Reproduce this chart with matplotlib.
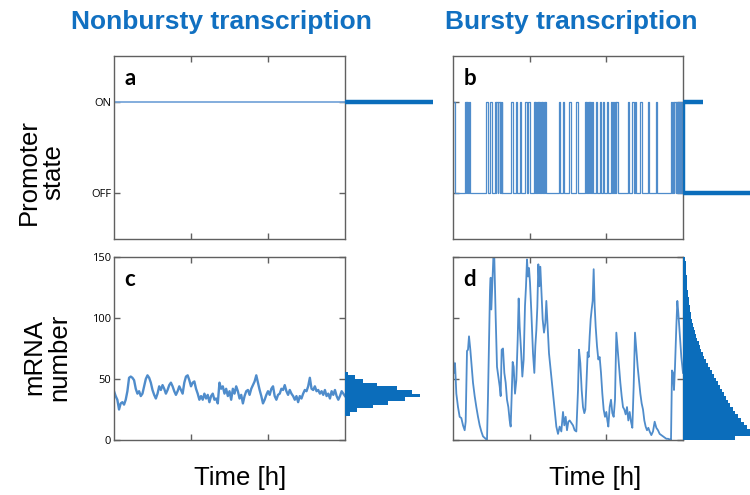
import numpy as np
import matplotlib.pyplot as plt

# time axis in minutes, 0..690
t_end = 690
t_ticks = [230, 460]

# promoter switching (bursty case): ON intervals
b_on_start = [0, 35, 39, 43, 47, 100, 110, 125, 130, 136, 141, 146, 175, 188, 200,
              215, 225, 242, 247, 251, 255, 259, 263, 267, 272, 277, 318, 330, 348,
              368, 395, 400, 404, 408, 412, 416, 428, 440, 450, 463, 475, 480, 485,
              490, 525, 538, 546, 562, 585, 608, 655, 660, 664, 670, 675, 680, 686]
b_on_end = [5, 38, 42, 46, 50, 105, 118, 128, 134, 140, 145, 148, 179, 193, 203,
            222, 230, 246, 250, 254, 258, 262, 266, 270, 275, 280, 321, 333, 354,
            374, 398, 403, 407, 411, 415, 420, 432, 443, 454, 466, 478, 483, 488,
            495, 529, 542, 550, 566, 588, 611, 658, 663, 668, 673, 678, 684, 690]

# fraction of time in [OFF, ON]
a_state_frac = [0.0, 1.0]
b_state_frac = [0.77, 0.23]

# mRNA, nonbursty (sampled every 5 min)
c_mrna = [40, 36, 33, 25, 30, 31, 29, 33, 40, 51, 52, 51, 49, 42, 38, 40, 36, 38, 44, 50,
          53, 51, 47, 41, 37, 34, 38, 44, 41, 45, 42, 38, 41, 45, 47, 44, 40, 37, 40, 44,
          41, 38, 47, 52, 53, 49, 44, 47, 48, 42, 38, 33, 36, 33, 38, 34, 37, 31, 36, 38,
          33, 34, 30, 47, 42, 44, 38, 42, 36, 40, 33, 42, 38, 44, 40, 34, 37, 30, 36, 40,
          41, 37, 42, 45, 48, 53, 47, 41, 36, 30, 33, 37, 40, 37, 42, 44, 36, 33, 37, 38,
          42, 41, 45, 40, 37, 41, 38, 36, 33, 36, 31, 36, 34, 38, 41, 40, 44, 51, 42, 41,
          44, 40, 41, 38, 40, 37, 41, 36, 38, 34, 40, 37, 41, 36, 33, 36, 40, 38, 36]

# mRNA, bursty
d_time = [0, 3, 6, 10, 15, 20, 25, 30, 35, 38, 42, 45, 48, 52, 56, 60, 65, 70, 75, 80,
          85, 90, 98, 102, 105, 108, 111, 113, 115, 118, 121, 124, 128, 132, 136, 140,
          143, 146, 150, 154, 158, 162, 166, 170, 173, 176, 179, 182, 186, 190, 194, 197,
          200, 204, 208, 212, 216, 219, 222, 225, 228, 231, 235, 240, 244, 247, 250, 253,
          256, 259, 262, 265, 269, 273, 277, 280, 284, 288, 292, 296, 300, 305, 310, 315,
          320, 325, 330, 334, 338, 342, 346, 350, 355, 360, 365, 370, 375, 378, 382, 386,
          390, 394, 397, 400, 404, 407, 410, 413, 416, 419, 422, 425, 428, 432, 436, 440,
          444, 448, 452, 456, 460, 463, 466, 470, 474, 478, 482, 486, 490, 494, 498, 502,
          506, 510, 514, 518, 522, 526, 530, 534, 538, 542, 546, 550, 554, 558, 562, 566,
          570, 574, 578, 582, 586, 590, 595, 600, 605, 610, 615, 620, 625, 630, 635, 640,
          645, 650, 654, 657, 660, 663, 666, 670, 673, 676, 680, 685, 690]
d_mrna = [67, 55, 63, 38, 27, 19, 18, 12, 8, 15, 73, 74, 85, 74, 60, 47, 36, 27, 19, 12,
          7, 3, 1, 0, 36, 82, 123, 133, 107, 129, 149, 149, 101, 60, 52, 44,
          36, 74, 75, 55, 47, 33, 27, 16, 11, 36, 64, 60, 38, 49, 82, 116,
          93, 74, 52, 66, 110, 126, 148, 134, 141, 129, 105, 71, 55, 77, 90, 109,
          144, 126, 142, 123, 99, 88, 96, 114, 93, 71, 60, 49, 38, 25, 11, 5,
          11, 7, 23, 12, 19, 8, 15, 16, 14, 12, 8, 7, 41, 74, 63, 41,
          27, 22, 25, 44, 72, 68, 85, 99, 107, 114, 140, 110, 93, 77, 66, 68,
          55, 38, 25, 19, 23, 16, 11, 27, 33, 22, 19, 33, 88, 74, 60, 47,
          36, 27, 25, 21, 27, 16, 23, 15, 10, 44, 88, 74, 60, 49, 38, 30,
          25, 16, 11, 8, 10, 7, 4, 7, 15, 10, 8, 5, 4, 3, 2, 1,
          1, 0.5, 0, 57, 55, 41, 60, 93, 114, 104, 88, 68, 55]

# steady-state mRNA distributions
c_edges = np.arange(20, 57, 3)
c_counts = [5, 12, 28, 43, 60, 75, 67, 52, 32, 18, 10, 3]
d_edges = np.arange(0, 151, 3)
d_counts = [52, 70, 67, 64, 61, 58, 55, 52, 50, 47, 45, 43, 41, 39, 37, 35, 33, 31, 29,
            27, 25, 23, 21, 20, 18, 17, 16, 14, 13, 12, 11, 10, 9, 8, 7.5, 7, 6.5, 6,
            5.5, 5, 4.5, 4, 4, 3.5, 3.5, 3, 3, 2.5, 2.5, 2]

trace_col = '#4f8ccb'
hist_col = '#0b6dbb'
title_col = '#1170c1'
frame_col = '#606060'

W, H = 750, 495
fig = plt.figure(figsize=(W / 100, H / 100), dpi=100)


def add_ax(left, top, right, bottom):
    return fig.add_axes([left / W, 1 - bottom / H, (right - left) / W, (bottom - top) / H])


def style(ax, letter):
    for s in ax.spines.values():
        s.set_color(frame_col)
        s.set_linewidth(1.0)
    ax.set_xlim(0, t_end)
    ax.set_xticks(t_ticks)
    ax.set_xticklabels([])
    ax.tick_params(direction='in', length=4, width=1, color=frame_col,
                   top=True, right=True, labelsize=8, pad=2)
    ax.text(0.045, 0.875, letter, transform=ax.transAxes, fontsize=16,
            fontweight='bold', family='Lato', ha='left', va='center')


def hist_ax(left, top, bottom, ylim):
    h = add_ax(left, top, left + 88, bottom)
    h.set_ylim(*ylim)
    h.axis('off')
    return h


state_lim = (-0.5, 1.5)
mrna_lim = (0, 150)

# promoter state, nonbursty
ax_a = add_ax(114, 56, 345, 239)
ax_a.plot([0, t_end], [1, 1], color='#7aa7da', lw=1.3)
ax_a.set_ylim(*state_lim)
ax_a.set_yticks([0, 1])
ax_a.set_yticklabels(['OFF', 'ON'], family='Open Sans')
style(ax_a, 'a')
h_a = hist_ax(345, 56, 239, state_lim)
h_a.set_xlim(0, 1)
h_a.plot([0, a_state_frac[1]], [1, 1], color=hist_col, lw=3.2, solid_capstyle='butt')

# promoter state, bursty
bt, by = [0], [0]
for s, e in zip(b_on_start, b_on_end):
    bt += [s, s, e, e]
    by += [0, 1, 1, 0]
bt.append(t_end)
by.append(0)
ax_b = add_ax(453, 56, 683, 239)
ax_b.plot(bt, by, color=trace_col, lw=0.9)
ax_b.set_ylim(*state_lim)
ax_b.set_yticks([0, 1])
ax_b.set_yticklabels([])
style(ax_b, 'b')
h_b = hist_ax(683, 56, 239, state_lim)
h_b.set_xlim(0, 1)
h_b.plot([b_state_frac[0], 0, 0, b_state_frac[1]], [0, 0, 1, 1], color=hist_col,
         lw=3.2, solid_capstyle='butt')

# mRNA, nonbursty
ax_c = add_ax(114, 257, 345, 440)
ax_c.plot(np.linspace(0, t_end, len(c_mrna)), c_mrna, color=trace_col, lw=1.7)
ax_c.set_ylim(*mrna_lim)
ax_c.set_yticks([0, 50, 100, 150])
ax_c.set_yticklabels(['0', '50', '100', '150'], family='Open Sans')
style(ax_c, 'c')
h_c = hist_ax(345, 257, 440, mrna_lim)
h_c.set_xlim(0, 88)
h_c.stairs(c_counts, c_edges, orientation='horizontal', fill=True, color=hist_col)

# mRNA, bursty
ax_d = add_ax(453, 257, 683, 440)
ax_d.plot(d_time, d_mrna, color=trace_col, lw=1.3)
ax_d.set_ylim(*mrna_lim)
ax_d.set_yticks([0, 50, 100, 150])
ax_d.set_yticklabels([])
style(ax_d, 'd')
h_d = hist_ax(683, 257, 440, mrna_lim)
h_d.set_xlim(0, 88)
h_d.stairs(d_counts, d_edges, orientation='horizontal', fill=True, color=hist_col,
           lw=0)

title_font = dict(family='Liberation Sans', fontsize=19, fontweight='bold',
                  color=title_col, ha='center', va='center')
fig.text(221 / W, 1 - 22 / H, 'Nonbursty transcription', **title_font)
fig.text(571 / W, 1 - 22 / H, 'Bursty transcription', **title_font)

label_font = dict(family='Liberation Sans', fontsize=18.5, ha='center', va='center')
fig.text(240 / W, 1 - 478 / H, 'Time [h]', **label_font)
fig.text(595 / W, 1 - 478 / H, 'Time [h]', **label_font)
fig.text(41 / W, 1 - 172 / H, 'Promoter\nstate', rotation=90, linespacing=1.05,
         multialignment='center', **label_font)
fig.text(47 / W, 1 - 357 / H, 'mRNA\nnumber', rotation=90, linespacing=1.05,
         multialignment='center', **label_font)

fig.savefig('out.png', dpi=100)
